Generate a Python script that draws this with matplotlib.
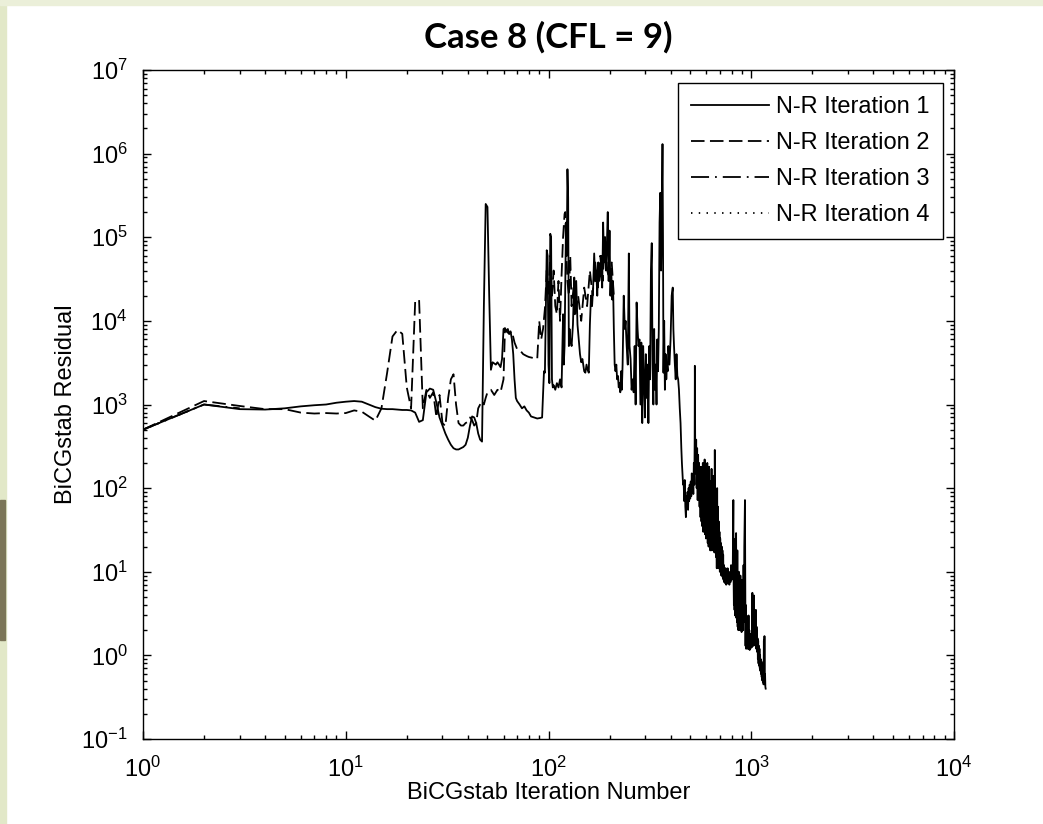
import numpy as np
import matplotlib
matplotlib.use('Agg')
import matplotlib.pyplot as plt
from matplotlib.patches import Rectangle
from matplotlib.ticker import LogLocator

plt.rcParams['font.family'] = ['Liberation Sans', 'DejaVu Sans']
plt.rcParams['axes.unicode_minus'] = False

#%% data (BiCGstab iteration, residual)
it1_x = [1, 2, 3, 4, 5, 6, 7, 8, 9, 10,
         11, 12, 13, 14, 15, 16, 17, 18, 19, 20,
         21, 22, 23, 24, 25, 26, 27, 28, 29, 30,
         31, 32, 33, 34, 35, 36, 37, 38, 39, 40,
         41, 42, 43, 44, 45, 46, 47,
         48, 49, 50, 51, 52, 53, 54, 55, 56, 57,
         58, 59, 60, 61, 62, 63, 64, 65, 66, 67,
         68, 69, 70, 72, 74, 76, 78, 80, 82, 85,
         88, 91, 93, 95, 96, 97, 98, 99, 100,
         101, 102, 103, 104, 105, 106, 108, 110, 112, 114,
         116, 118, 119, 120, 121, 122, 123, 124, 125, 126,
         127, 128, 130, 132, 134, 135, 137, 139, 141, 143,
         145, 147, 150, 152, 154, 156, 158, 160, 162, 164,
         166, 168, 170, 172, 174, 176, 178, 180, 182, 184,
         186, 188, 190, 192, 194, 196, 198, 200, 202, 204,
         206, 208, 210, 212, 214, 216, 218, 220, 222, 224,
         226, 228, 230, 232, 235, 238, 240, 243, 246, 249,
         251, 254, 257, 260, 263, 266, 269, 272, 275, 278,
         281, 284, 287, 290, 293, 296, 299, 302, 305, 308,
         311, 314, 317, 320, 323, 326, 329, 332, 335, 338,
         341, 344, 347, 350, 353, 356, 359, 362, 365, 367,
         369, 372, 375, 378, 381, 384, 387, 390, 395, 400,
         405, 410, 413, 416, 420, 424, 428, 432, 436, 440,
         444, 448, 452, 455, 458, 461, 464, 467, 470, 473,
         476, 479, 482, 485, 488, 491, 494, 497, 500, 503,
         506, 509, 512, 515, 518, 521, 524, 526, 527, 529,
         532, 535, 538, 541, 544, 547, 550, 553, 556, 559,
         562, 565, 568, 571, 574, 577, 580, 583, 586, 589,
         592, 595, 598, 601, 604, 607, 610, 613, 616, 619,
         622, 625, 628, 631, 634, 637, 640, 643, 646, 649,
         652, 655, 658, 661, 664, 667, 670, 673, 676, 679,
         682, 685, 688, 691, 694, 697, 700,
         703, 706, 709, 712, 715, 718, 721, 724, 727, 730,
         733, 736, 740, 744, 748, 752, 756, 760, 765, 770,
         775, 780, 785, 790, 795, 800, 805, 810, 814, 816,
         818, 821, 824, 827, 830, 833, 836, 839, 842, 845,
         848, 851, 854, 857, 860, 864, 868, 872, 876, 880,
         884, 888, 892, 896, 900, 904, 908, 912, 916, 920,
         924, 928, 931, 934, 937, 940, 943, 946, 950, 954,
         958, 962, 966, 970, 974, 978, 982, 986, 990, 994,
         998, 1002, 1006, 1010, 1013, 1016, 1020, 1024, 1028, 1031,
         1034, 1038, 1042, 1046, 1050, 1054, 1058, 1062, 1066, 1070,
         1074, 1078, 1082, 1086, 1090, 1094, 1098, 1102, 1106, 1110,
         1114, 1118, 1122, 1126, 1130, 1134, 1138, 1142, 1146, 1150,
         1154, 1158, 1162, 1166, 1170, 1174, 1178]
it1_y = [500, 1000, 880, 870, 900, 950, 980, 1000, 1050, 1080,
         1100, 1080, 1000, 930, 890, 880, 880, 870, 860, 860,
         850, 800, 620, 650, 1400, 1550, 1500, 1050, 700, 560,
         450, 380, 330, 300, 290, 290, 300, 310, 330, 400,
         560, 720, 700, 600, 450, 380, 360,
         15000, 250000, 230000, 20000, 2600, 3200, 3100, 3000, 3200, 3000,
         2800, 3500, 8000, 8200, 7500, 8000, 7000, 7500, 6000, 4000,
         2000, 1200, 1100, 1000, 900, 950, 850, 800, 720, 700,
         680, 690, 700, 2500, 2400, 14000, 70000, 60000, 3000,
         1800, 110000, 100000, 2000, 1600, 1700, 1500, 1800, 1600, 2000,
         1600, 12000, 3000, 5000, 30000, 150000, 60000, 650000, 300000, 5000,
         8000, 6000, 5000, 9000, 33000, 12000, 30000, 9000, 6000, 4000,
         3200, 3500, 2500, 2400, 3000, 2600, 2400, 9000, 20000, 15000,
         25000, 64000, 30000, 40000, 20000, 50000, 30000, 35000, 60000, 25000,
         150000, 50000, 100000, 40000, 80000, 200000, 30000, 120000, 20000, 40000,
         18000, 30000, 8000, 3000, 2500, 3000, 2000, 2200, 1600, 1800,
         1400, 2500, 1500, 3000, 20000, 8000, 10000, 5000, 3000, 64000,
         5000, 3500, 1500, 2000, 1400, 5000, 1000, 16600, 8000, 5000,
         6000, 1000, 5500, 600, 5000, 2000, 700, 4000, 1200, 3000,
         600, 5000, 2000, 40000, 85000, 3000, 1000, 8000, 1500, 3000,
         1000, 6000, 2500, 8000, 150000, 340000, 40000, 200000, 1300000, 100000,
         2400, 10000, 1500, 4000, 2000, 3000, 2500, 5000, 3000, 6000,
         20000, 25000, 8000, 5000, 3000, 2000, 4000, 2200, 2000, 1500,
         900, 600, 300, 200, 150, 110, 120, 70, 125, 60,
         45, 80, 60, 90, 55, 100, 70, 110, 75, 120,
         80, 150, 90, 130, 85, 200, 110, 400, 2900, 350,
         150, 380, 100, 300, 72, 250, 80, 200, 60, 150,
         45, 180, 40, 120, 35, 200, 30, 150, 40, 220,
         28, 120, 25, 150, 30, 200, 22, 100, 20, 180,
         25, 80, 18, 120, 20, 170, 18, 90, 25, 140,
         20, 100, 17, 286, 30, 60, 15, 50, 11, 100,
         12, 60, 11, 40, 12, 30, 10,
         25, 10, 22, 9, 20, 9, 18, 8.5, 16, 8,
         12, 7.5, 11, 7.3, 11, 7, 10, 7.2, 11, 7.5,
         10, 7, 9, 7.5, 12, 8, 10, 9, 40, 72,
         9, 4, 20, 3.5, 15, 3, 25, 3.2, 29, 2.8,
         12, 2.5, 18, 2.2, 8, 2, 10, 2.5, 6, 2,
         9, 2.2, 5, 1.9, 8, 2.3, 6, 2, 12, 2.5,
         20, 40, 72, 6, 1.3, 4, 1.2, 3, 1.25, 2.5,
         1.2, 2.2, 1.3, 3, 1.2, 2, 1.16, 1.8, 1.2, 1.7,
         1.3, 1.8, 1.25, 3, 5.6, 1.5, 2.5, 1.3, 4, 5.2,
         1.6, 2.5, 1.4, 2, 1.3, 3.5, 1.2, 2.2, 1.8, 1.1,
         1.6, 0.9, 1.5, 0.8, 1.3, 0.75, 1.2, 0.7, 1.0, 0.65,
         0.9, 0.6, 0.85, 0.55, 0.8, 0.5, 0.75, 0.48, 0.7, 0.45,
         1.5, 0.5, 1.7, 0.45, 0.6, 0.42, 0.4]

it2_x = [1, 2, 3, 4, 5, 6, 7, 8, 9, 10,
         11, 12, 13, 14, 15, 16, 17, 18, 19, 20,
         21, 22, 23, 24, 25, 26, 27, 28, 29, 30,
         31, 32, 33, 34, 35, 36, 37, 38, 39, 40,
         41, 42, 43, 44, 45, 46, 47, 48, 49, 50,
         52, 54, 56, 58, 60, 61, 62, 64, 66, 68,
         70, 72, 75, 78, 80, 84, 88, 90, 92, 94,
         96, 98, 100, 102, 104, 106, 108, 110, 112, 114,
         116, 118, 120, 121, 122, 124, 126, 128, 130, 133,
         136, 140, 145, 150, 155, 160, 165, 170, 175, 180,
         185, 190, 195, 200, 205, 210]
it2_y = [500, 1100, 960, 880, 880, 800, 780, 790, 780, 790,
         850, 820, 720, 640, 900, 2400, 6500, 7800, 7000, 1600,
         900, 17000, 18000, 900, 1500, 1200, 1400, 700, 1300, 600,
         550, 1200, 2000, 2300, 1000, 600, 560, 560, 600, 620,
         700, 650, 560, 600, 900, 1000, 1100, 1000, 1200, 1400,
         1500, 1300, 1500, 1400, 2000, 8000, 7500, 7000, 7500, 5500,
         4600, 4500, 4000, 3800, 3700, 3600, 3500, 10000, 6000, 8000,
         14000, 40000, 20000, 60000, 20000, 40000, 15000, 12000, 30000, 10000,
         35000, 100000, 190000, 200000, 80000, 30000, 20000, 60000, 15000, 25000,
         12000, 20000, 10000, 25000, 15000, 40000, 20000, 50000, 25000, 60000,
         30000, 100000, 40000, 30000, 50000, 20000]

it3_x = [1, 2, 3]
it3_y = [500, 1000, 900]

it4_x = [1, 2]
it4_y = [500, 1000]

labels = ['N-R Iteration 1', 'N-R Iteration 2', 'N-R Iteration 3', 'N-R Iteration 4']
x_decades = [1, 10, 100, 1000, 10000]
y_decades = [0.1, 1, 10, 100, 1e3, 1e4, 1e5, 1e6, 1e7]

#%% figure
fig = plt.figure(figsize=(10.43, 8.24), dpi=100)
fig.patch.set_facecolor('white')
# slide background showing at the edges
fig.add_artist(Rectangle((0, 0), 6/1043, 1, transform=fig.transFigure,
                         color='#e2e8c8', zorder=-1))
fig.add_artist(Rectangle((0, 1-5/824), 1, 5/824, transform=fig.transFigure,
                         color='#ebefd9', zorder=-1))
fig.add_artist(Rectangle((0, 184/824), 5/1043, 140/824, transform=fig.transFigure,
                         color='#7b7558', zorder=-1))

ax = fig.add_axes([143/1043, 85/824, 811/1043, 669/824])
lw = 1.3
ax.plot(it1_x, it1_y, color='k', lw=lw, ls='-', label=labels[0])
ax.plot(it2_x, it2_y, color='k', lw=lw, ls=(0, (7.5, 3)), label=labels[1])
ax.plot(it3_x, it3_y, color='k', lw=lw, ls=(0, (10, 3.3, 1, 3.3)), label=labels[2])
ax.plot(it4_x, it4_y, color='k', lw=lw, ls=(0, (0.8, 3.5)), label=labels[3])

ax.set_xscale('log')
ax.set_yscale('log')
ax.set_xticks(x_decades)
ax.set_yticks(y_decades)
ax.set_xlim(x_decades[0], x_decades[-1])
ax.set_ylim(y_decades[0], y_decades[-1])
for a in (ax.xaxis, ax.yaxis):
    a.set_minor_locator(LogLocator(base=10, subs=np.arange(2, 10), numticks=20))

ax.tick_params(which='both', direction='in', top=True, right=True,
               labelsize=17, width=1)
ax.tick_params(axis='x', pad=13)
ax.tick_params(axis='y', pad=11)
ax.tick_params(which='major', length=6)
ax.tick_params(which='minor', length=3)
for s in ax.spines.values():
    s.set_linewidth(1.0)

ax.set_xlabel('BiCGstab Iteration Number', fontsize=17, labelpad=0)
ax.set_ylabel('BiCGstab Residual', fontsize=17, labelpad=3)
ax.set_title('Case 8 (CFL = 9)', fontsize=25, fontweight='bold',
             family=['Lato', 'DejaVu Sans'], pad=16)

leg = ax.legend(loc='upper right', bbox_to_anchor=(0.9864, 0.9806), borderaxespad=0,
                fancybox=False, edgecolor='k', framealpha=1, fontsize=17,
                handlelength=3.3, handletextpad=0.3, labelspacing=0.6, borderpad=0.55)
leg.get_frame().set_linewidth(1.0)

fig.savefig('out.png', dpi=100)
